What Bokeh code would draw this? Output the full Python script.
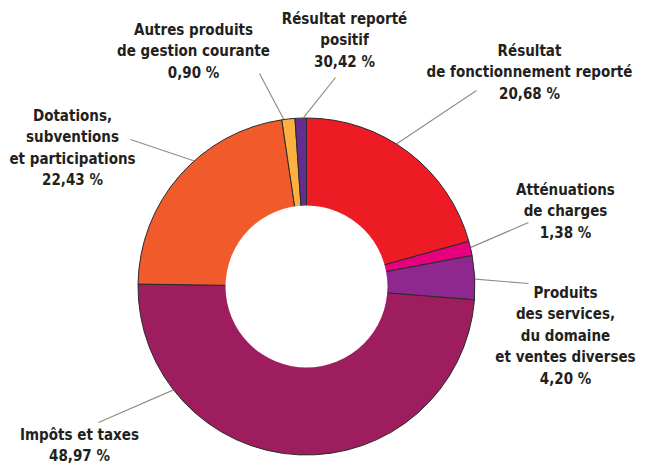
import math
from bokeh.plotting import figure
from bokeh.models import Range1d
from bokeh.core.properties import value
from bokeh.embed import file_html
from bokeh.resources import INLINE

# ---- data (clockwise from 12 o'clock) ----
categories = [
    "Résultat\nde fonctionnement reporté",
    "Atténuations\nde charges",
    "Produits\ndes services,\ndu domaine\net ventes diverses",
    "Impôts et taxes",
    "Dotations,\nsubventions\net participations",
    "Autres produits\nde gestion courante",
    "Résultat reporté\npositif",
]
slice_values = [20.68, 1.38, 4.20, 48.97, 22.43, 1.25, 1.09]
pct_labels = ["20,68 %", "1,38 %", "4,20 %", "48,97 %", "22,43 %", "0,90 %", "30,42 %"]
colors = ["#ED1C24", "#E6007E", "#8E288F", "#9D1D5F", "#F15A2A", "#FBB040", "#662D91"]

# ---- layout (image pixel coords, y downward) ----
W, H = 649, 465
CX, CY = 306, 286
R_OUT, R_IN = 168.5, 81
label_pos = [(529, 50), (565, 189), (565, 292), (79, 434), (72, 115), (193, 29), (344, 18)]
leader_angle = [32.3, 76.6, 87.5, 232.2, 318.1, 352.2, 359.0]  # deg clockwise from top
leader_end = [(476, 90), (528, 222), (528, 283), (98, 422), (130, 139), (259, 73), (335, 77)]
LINE_H = 21.6
FONT = "'Liberation Sans Narrow', 'DejaVu Sans Condensed', 'Roboto Condensed', sans-serif"

p = figure(width=W, height=H, output_backend="svg", toolbar_location=None,
           x_range=Range1d(0, W), y_range=Range1d(0, H), min_border=0)
p.axis.visible = False
p.grid.visible = False
p.outline_line_color = None
p.background_fill_color = "white"

total = sum(slice_values)
cum = 0.0
starts, ends = [], []
for v in slice_values:
    starts.append(math.pi / 2 - 2 * math.pi * cum / total)
    cum += v
    ends.append(math.pi / 2 - 2 * math.pi * cum / total)

p.wedge(x=CX, y=H - CY, radius=R_OUT, start_angle=starts, end_angle=ends,
        direction="clock", fill_color=colors, line_color="#2a2a2a", line_width=1)
p.scatter(x=[CX], y=[H - CY], size=2 * R_IN, marker="circle",
          fill_color="white", line_color=None)

# leader lines
for ang, (ex, ey) in zip(leader_angle, leader_end):
    t = math.radians(ang)
    sx = CX + (R_OUT + 0.5) * math.sin(t)
    sy = CY - (R_OUT + 0.5) * math.cos(t)
    p.line(x=[sx, ex], y=[H - sy, H - ey], line_color="#9A8C80", line_width=1.2)

# labels
xs, ys, txt = [], [], []
for cat, pct, (lx, ly) in zip(categories, pct_labels, label_pos):
    lines = cat.split("\n") + [pct]
    for i, ln in enumerate(lines):
        xs.append(lx)
        ys.append(H - (ly + i * LINE_H))
        txt.append(ln)
p.text(x=xs, y=ys, text=txt, text_align="center", text_baseline="middle",
       text_font=value(FONT), text_font_style="bold", text_font_size="15px",
       text_color="#231F20")

open("out.html", "w").write(file_html(p, INLINE))
